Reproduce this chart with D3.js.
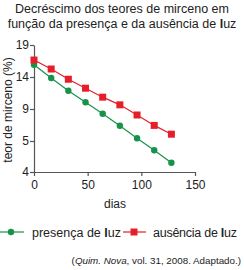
<!DOCTYPE html>
<html><head><meta charset="utf-8">
<script src="https://cdn.jsdelivr.net/npm/d3@7"></script>
<style>body{margin:0;background:#fff}text{font-family:"Liberation Sans",Arial,sans-serif}</style>
</head><body><svg id="c" width="244" height="270"></svg>
<script>
const days = [0,16,32,48,64,80,96,112,128];
const presenca = [15.9,13.85,11.85,10.05,8.4,6.9,5.35,4.7,4.3];
const ausencia = [16.65,15.25,13.65,12.25,10.85,9.65,8.25,6.95,5.85];
const yTicks = [4,5,9,14,19];
const xTicks = [0,50,100,150];

const svg = d3.select("#c");
const green = "#16934a", red = "#e51f2a", axisCol = "#555";
const x = d3.scaleLinear().domain([0,150]).range([34,195]);
const y = d3.scaleLinear().domain(yTicks).range([172,141,109,77,45]);

// title
const t = svg.append("g").attr("font-size",12.5).attr("text-anchor","middle").attr("fill","#222");
t.append("text").attr("x",122).attr("y",13).text("Decréscimo dos teores de mirceno em");
const t2 = t.append("text").attr("x",122).attr("y",28);
t2.append("tspan").text("função da presença e da ausência de ");
t2.append("tspan").attr("font-weight","bold").text("l");
t2.append("tspan").text("uz");

// axes
const ya = svg.append("g").attr("transform","translate(34,0)")
  .call(d3.axisLeft(y).tickValues(yTicks).tickFormat(d3.format("d")).tickSize(4).tickSizeOuter(0));
const xa = svg.append("g").attr("transform","translate(0,172)")
  .call(d3.axisBottom(x).tickValues(xTicks).tickSize(4).tickSizeOuter(0));
[ya,xa].forEach(a=>{
  a.selectAll("path,line").attr("stroke",axisCol).attr("stroke-width",1.2);
  a.selectAll("text").attr("font-size",12).attr("fill","#222").attr("font-family","Liberation Sans, Arial, sans-serif");
});
ya.selectAll("text").attr("x",-5);
xa.selectAll("text").attr("y",8);

svg.append("text").attr("transform","translate(12,110) rotate(-90)").attr("text-anchor","middle")
  .attr("font-size",12).attr("fill","#222").text("teor de mirceno (%)");
svg.append("text").attr("x",115).attr("y",208).attr("text-anchor","middle")
  .attr("font-size",12).attr("fill","#222").text("dias");

// series
const line = d3.line().x((d,i)=>x(days[i])).y(d=>y(d));
svg.append("path").datum(presenca).attr("d",line).attr("fill","none").attr("stroke",green).attr("stroke-width",1.2);
svg.append("path").datum(ausencia).attr("d",line).attr("fill","none").attr("stroke",red).attr("stroke-width",1.2);
svg.selectAll("circle.p").data(presenca).join("circle").attr("class","p")
  .attr("cx",(d,i)=>x(days[i])).attr("cy",d=>y(d)).attr("r",3.2).attr("fill",green);
svg.selectAll("rect.a").data(ausencia).join("rect").attr("class","a")
  .attr("x",(d,i)=>x(days[i])-3.5).attr("y",d=>y(d)-3.5).attr("width",7).attr("height",7).attr("fill",red);

// legend
const lg = svg.append("g").attr("font-size",12.5).attr("fill","#222");
lg.append("line").attr("x1",0).attr("x2",24).attr("y1",232).attr("y2",232).attr("stroke",green).attr("stroke-width",1.2);
lg.append("circle").attr("cx",11).attr("cy",232).attr("r",3.2).attr("fill",green);
const l1 = lg.append("text").attr("x",32).attr("y",236.5);
l1.append("tspan").text("presença de ");
l1.append("tspan").attr("font-weight","bold").text("l");
l1.append("tspan").text("uz");
lg.append("line").attr("x1",123).attr("x2",146).attr("y1",232).attr("y2",232).attr("stroke",red).attr("stroke-width",1.2);
lg.append("rect").attr("x",130.5).attr("y",228.5).attr("width",7).attr("height",7).attr("fill",red);
const l2 = lg.append("text").attr("x",153).attr("y",236.5).attr("textLength",84).attr("lengthAdjust","spacing");
l2.append("tspan").text("ausência de ");
l2.append("tspan").attr("font-weight","bold").text("l");
l2.append("tspan").text("uz");

// source
const s = svg.append("text").attr("x",241).attr("y",264).attr("text-anchor","end").attr("font-size",9.8).attr("fill","#222");
s.append("tspan").text("(");
s.append("tspan").attr("font-style","italic").text("Quim. Nova");
s.append("tspan").text(", vol. 31, 2008. Adaptado.)");
</script></body></html>
